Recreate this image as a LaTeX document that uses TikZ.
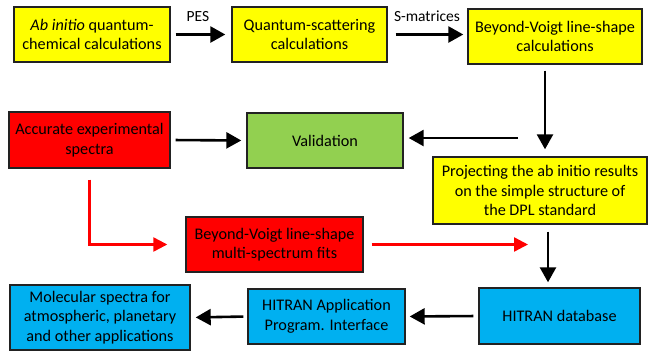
\documentclass[tikz,border=0pt]{standalone}
\usepackage{fontspec}
\setmainfont{Carlito}
\usetikzlibrary{arrows.meta,calc}
\definecolor{byellow}{HTML}{FFFF00}
\definecolor{bred}{HTML}{FF0000}
\definecolor{bgreen}{HTML}{92D050}
\definecolor{bblue}{HTML}{00B0F0}
\definecolor{edge}{HTML}{222222}
\tikzset{
  box/.style={draw=edge, line width=1.4pt, inner sep=0pt, align=center,
    font=\fontsize{16.2}{19.5}\selectfont},
  arr/.style={line width=2.6pt, -{Triangle[length=15pt,width=16pt]}},
  redarr/.style={line width=2.4pt, draw=bred, -{Triangle[length=14pt,width=14pt]}},
  lbl/.style={font=\fontsize{15.5}{18}\selectfont, inner sep=0pt}
}
\begin{document}
\begin{tikzpicture}[x=1pt,y=-1pt]
\useasboundingbox (0,0) rectangle (649,354);
\node[box, fill=byellow, minimum width=156pt, minimum height=55pt] (A) at (92,34.5) {\textit{Ab initio} quantum-\\chemical calculations};
\node[box, fill=byellow, minimum width=155pt, minimum height=55pt] (B) at (309.5,34.5) {Quantum-scattering\\calculations};
\node[box, fill=byellow, minimum width=174pt, minimum height=55pt] (C) at (555,36.5) {Beyond-Voigt line-shape\\calculations};
\node[box, fill=bred, minimum width=161pt, minimum height=56pt] (D) at (89.5,140) {Accurate experimental\\spectra};
\node[box, fill=bgreen, minimum width=156pt, minimum height=55pt] (E) at (325,140.5) {Validation};
\node[box, fill=byellow, minimum width=214pt, minimum height=67pt] (F) at (540,190.5) {Projecting the ab initio results\\on the simple structure of\\the DPL standard};
\node[box, fill=bred, minimum width=177pt, minimum height=55pt] (G) at (274.5,244.5) {Beyond-Voigt line-shape\\multi-spectrum fits};
\node[box, fill=bblue, minimum width=180pt, minimum height=65pt] (H) at (100,317.5) {Molecular spectra for\\atmospheric, planetary\\and other applications};
\node[box, fill=bblue, minimum width=157pt, minimum height=55pt] (I) at (326.5,316.5) {HITRAN Application\\Program. Interface};
\node[box, fill=bblue, minimum width=161pt, minimum height=56pt] (J) at (559.5,316) {HITRAN database};
\coordinate (vstart) at (518,138);
\coordinate (redend) at (528,244.5);
% arrows
\draw[arr, shorten <=5pt, shorten >=6pt] (A.east) -- (B.west);
\node[lbl] (pes) at (198,17) {PES};
\draw[arr, shorten <=8pt, shorten >=4pt] (B.east) -- (B.east -| C.west);
\node[lbl] (smat) at (427,16) {S-matrices};
\draw[arr, shorten <=6pt, shorten >=7pt] ([xshift=-10pt]C.south) -- ([xshift=5pt]F.north);
\draw[arr, shorten >=5pt] (vstart) -- (vstart -| E.east);
\draw[arr, shorten <=5pt, shorten >=5pt] (D.east) -- (E.west);
\draw[redarr, shorten <=11pt, shorten >=18pt] (D.south) |- (G.west);
\draw[redarr, shorten <=8pt] (G.east) -- (redend);
\draw[arr, shorten <=7pt, shorten >=5pt] ([xshift=8pt]F.south) -- ([xshift=-11.5pt]J.north);
\draw[arr, shorten <=5pt, shorten >=4pt] (J.west) -- (I.east);
\draw[arr, shorten <=4pt, shorten >=5pt] (I.west) -- (H.east);
\end{tikzpicture}
\end{document}
